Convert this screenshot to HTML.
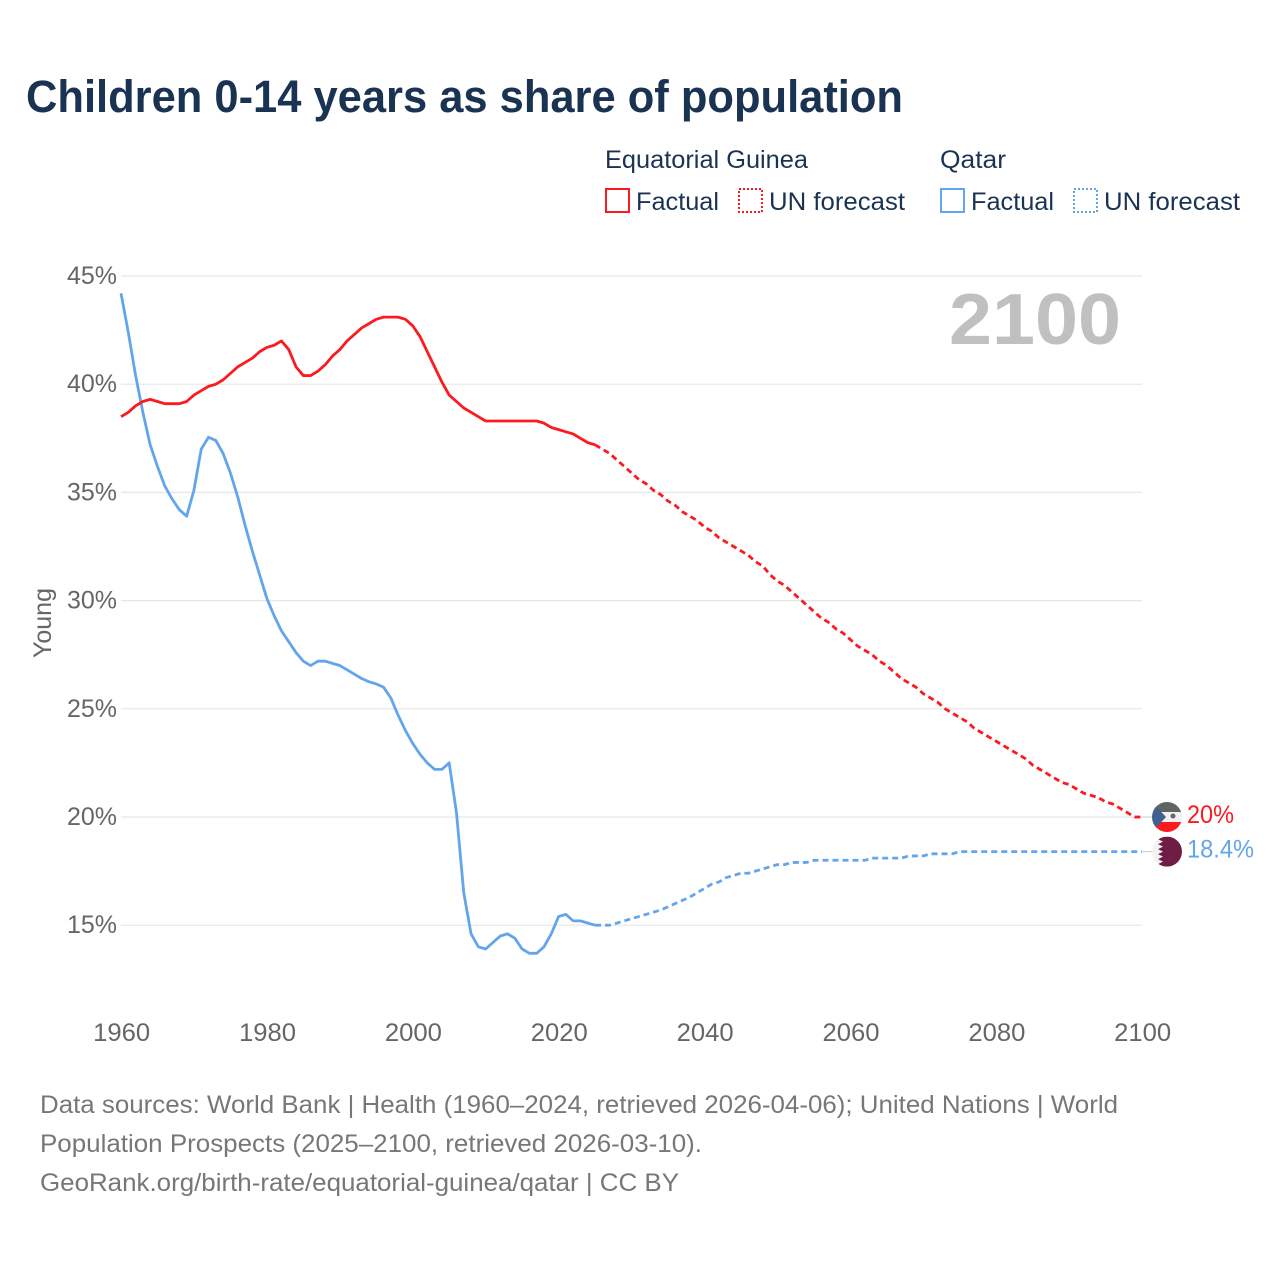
<!DOCTYPE html>
<html lang="en">
<head>
<meta charset="utf-8">
<title>Children 0-14 years as share of population</title>
<style>
html,body{margin:0;padding:0;background:#fff;}
svg{display:block;font-family:"Liberation Sans",sans-serif;}
</style>
</head>
<body>
<svg id="chart" xmlns="http://www.w3.org/2000/svg" width="1280" height="1280" viewBox="0 0 1280 1280">
  <defs>
    <clipPath id="clip-guinea"><circle cx="1167" cy="0" r="15" id="clip-guinea-circle"/></clipPath>
    <clipPath id="clip-qatar"><circle cx="1167" cy="0" r="15" id="clip-qatar-circle"/></clipPath>
  </defs>
  <rect width="1280" height="1280" fill="#fff"/>
  <text x="26" y="112" font-size="45" font-weight="700" fill="#1a3353" textLength="877" lengthAdjust="spacingAndGlyphs">Children 0-14 years as share of population</text>

  <g font-size="25" fill="#1a3353">
    <text x="605" y="168" textLength="203" lengthAdjust="spacingAndGlyphs">Equatorial Guinea</text>
    <text x="940" y="168" textLength="66" lengthAdjust="spacingAndGlyphs">Qatar</text>
    <rect x="606" y="189" width="23" height="23" fill="none" stroke="#fb1a1f" stroke-width="2"/>
    <text x="636" y="210" textLength="83" lengthAdjust="spacingAndGlyphs">Factual</text>
    <rect x="739" y="189" width="23" height="23" fill="none" stroke="#fb1a1f" stroke-width="2" stroke-dasharray="2 2"/>
    <text x="769" y="210" textLength="136" lengthAdjust="spacingAndGlyphs">UN forecast</text>
    <rect x="941" y="189" width="23" height="23" fill="none" stroke="#63a5ec" stroke-width="2"/>
    <text x="971" y="210" textLength="83" lengthAdjust="spacingAndGlyphs">Factual</text>
    <rect x="1074" y="189" width="23" height="23" fill="none" stroke="#63a5ec" stroke-width="2" stroke-dasharray="2 2"/>
    <text x="1104" y="210" textLength="136" lengthAdjust="spacingAndGlyphs">UN forecast</text>
  </g>

  <g id="grid"></g>
  <g id="y-ticks"></g>
  <g id="x-ticks"></g>
  <text transform="translate(51,623) rotate(-90)" text-anchor="middle" font-size="25" fill="#666" textLength="70" lengthAdjust="spacingAndGlyphs">Young</text>
  <text x="949" y="344" font-size="72" font-weight="700" fill="#c0c0c0" textLength="172" lengthAdjust="spacingAndGlyphs">2100</text>
  <g id="series"></g>
  <g id="end-markers"></g>

  <g font-size="25" fill="#777">
    <text x="40" y="1113" textLength="1078" lengthAdjust="spacingAndGlyphs">Data sources: World Bank | Health (1960–2024, retrieved 2026-04-06); United Nations | World</text>
    <text x="40" y="1152" textLength="662" lengthAdjust="spacingAndGlyphs">Population Prospects (2025–2100, retrieved 2026-03-10).</text>
    <text x="40" y="1191" textLength="639" lengthAdjust="spacingAndGlyphs">GeoRank.org/birth-rate/equatorial-guinea/qatar | CC BY</text>
  </g>
</svg>
<script>
var yTickValues = [15, 20, 25, 30, 35, 40, 45];
var xTickYears = [1960, 1980, 2000, 2020, 2040, 2060, 2080, 2100];
var factualStartYear = 1960;
var forecastStartYear = 2025;

var guineaFactual = [
  38.5,38.7,39.0,39.2,39.3,39.2,39.1,39.1,39.1,39.2,
  39.5,39.7,39.9,40.0,40.2,40.5,40.8,41.0,41.2,41.5,
  41.7,41.8,42.0,41.6,40.8,40.4,40.4,40.6,40.9,41.3,
  41.6,42.0,42.3,42.6,42.8,43.0,43.1,43.1,43.1,43.0,
  42.7,42.2,41.5,40.8,40.1,39.5,39.2,38.9,38.7,38.5,
  38.3,38.3,38.3,38.3,38.3,38.3,38.3,38.3,38.2,38.0,
  37.9,37.8,37.7,37.5,37.3,37.2
];
var guineaForecast = [
  37.2,37.0,36.8,36.5,36.2,35.9,35.6,35.4,35.1,34.9,
  34.6,34.4,34.1,33.9,33.7,33.4,33.2,32.9,32.7,32.5,
  32.3,32.1,31.8,31.6,31.2,30.9,30.7,30.4,30.1,29.8,
  29.5,29.2,29.0,28.7,28.5,28.2,27.9,27.7,27.5,27.2,
  27.0,26.7,26.4,26.2,26.0,25.7,25.5,25.3,25.0,24.8,
  24.6,24.4,24.1,23.9,23.7,23.5,23.3,23.1,22.9,22.7,
  22.4,22.2,22.0,21.8,21.6,21.5,21.3,21.1,21.0,20.9,
  20.7,20.6,20.4,20.2,20.0,20.0
];
var qatarFactual = [
  44.2,42.4,40.4,38.7,37.2,36.2,35.3,34.7,34.2,33.9,
  35.1,37.0,37.55,37.4,36.8,35.9,34.8,33.5,32.3,31.2,
  30.1,29.3,28.6,28.1,27.6,27.2,27.0,27.2,27.2,27.1,
  27.0,26.8,26.6,26.4,26.25,26.15,26.0,25.5,24.7,24.0,
  23.4,22.9,22.5,22.2,22.2,22.5,20.2,16.5,14.6,14.0,
  13.9,14.2,14.5,14.6,14.4,13.9,13.7,13.7,14.0,14.6,
  15.4,15.5,15.2,15.2,15.1,15.0
];
var qatarForecast = [
  15.0,15.0,15.0,15.1,15.2,15.3,15.4,15.5,15.6,15.7,
  15.85,16.0,16.15,16.3,16.5,16.7,16.9,17.0,17.2,17.3,
  17.4,17.4,17.5,17.6,17.7,17.8,17.8,17.9,17.9,17.9,
  18.0,18.0,18.0,18.0,18.0,18.0,18.0,18.0,18.1,18.1,
  18.1,18.1,18.1,18.2,18.2,18.2,18.3,18.3,18.3,18.3,
  18.4,18.4,18.4,18.4,18.4,18.4,18.4,18.4,18.4,18.4,
  18.4,18.4,18.4,18.4,18.4,18.4,18.4,18.4,18.4,18.4,
  18.4,18.4,18.4,18.4,18.4,18.4
];
var endLabels = ['20%', '18.4%'];

var NS = 'http://www.w3.org/2000/svg';
function xScale(year) { return 121 + (year - 1960) * (1021 / 140); }
function yScale(pct) { return 817 - (pct - 20) * 21.64; }
function svgEl(tag, attrs, parent) {
  var el = document.createElementNS(NS, tag);
  for (var k in attrs) { el.setAttribute(k, attrs[k]); }
  parent.appendChild(el);
  return el;
}
function linePoints(values, startYear) {
  return values.map(function (v, i) {
    return xScale(startYear + i).toFixed(2) + ',' + yScale(v).toFixed(2);
  }).join(' ');
}

var gridGroup = document.getElementById('grid');
var yTickGroup = document.getElementById('y-ticks');
yTickValues.forEach(function (v) {
  var gl = svgEl('line', {x1: xScale(1960), x2: xScale(2100), y1: yScale(v), y2: yScale(v), stroke: '#e6e6e6', 'stroke-width': 1.2}, gridGroup);
  
  
  var t = svgEl('text', {x: 117, y: yScale(v) + 8, 'text-anchor': 'end', 'font-size': 25, fill: '#666'}, yTickGroup);
  
  
  t.textContent = v + '%';
});
var xTickGroup = document.getElementById('x-ticks');
xTickYears.forEach(function (y) {
  var t = svgEl('text', {x: xScale(y) + 0.7, y: 1041, 'text-anchor': 'middle', 'font-size': 25, fill: '#666', textLength: 57, lengthAdjust: 'spacingAndGlyphs'}, xTickGroup);
  
  
  t.textContent = y;
});

var seriesGroup = document.getElementById('series');
var RED = '#fb1a1f';
var BLUE = '#63a5ec';
var lineQF = svgEl('polyline', {points: linePoints(qatarFactual, factualStartYear), fill: 'none', stroke: BLUE, 'stroke-width': 2.8, 'stroke-linejoin': 'round'}, seriesGroup);


var lineQU = svgEl('polyline', {points: linePoints(qatarForecast, forecastStartYear), fill: 'none', stroke: BLUE, 'stroke-width': 2.8, 'stroke-dasharray': '6 4', 'stroke-linejoin': 'round'}, seriesGroup);


var lineGF = svgEl('polyline', {points: linePoints(guineaFactual, factualStartYear), fill: 'none', stroke: RED, 'stroke-width': 2.8, 'stroke-linejoin': 'round'}, seriesGroup);


var lineGU = svgEl('polyline', {points: linePoints(guineaForecast, forecastStartYear), fill: 'none', stroke: RED, 'stroke-width': 2.8, 'stroke-dasharray': '6 4', 'stroke-linejoin': 'round'}, seriesGroup);



var markers = document.getElementById('end-markers');
var endG = yScale(guineaForecast[guineaForecast.length - 1]);
var endQ = yScale(qatarForecast[qatarForecast.length - 1]);
var cx = 1167;
document.getElementById('clip-guinea-circle').setAttribute('cy', endG);
document.getElementById('clip-qatar-circle').setAttribute('cy', endQ);

var connQ = svgEl('line', {x1: xScale(2100), x2: cx - 14, y1: endQ, y2: endQ, stroke: '#ccc', 'stroke-width': 1}, markers);


var connG = svgEl('line', {x1: xScale(2100), x2: cx - 14, y1: endG, y2: endG, stroke: '#ccc', 'stroke-width': 1}, markers);



var flagG = svgEl('g', {'clip-path': 'url(#clip-guinea)'}, markers);


svgEl('rect', {x: cx - 15, y: endG - 15, width: 30, height: 10, fill: '#5f6660'}, flagG);
svgEl('rect', {x: cx - 15, y: endG - 5, width: 30, height: 10, fill: '#f1f1f1'}, flagG);
svgEl('rect', {x: cx - 15, y: endG + 5, width: 30, height: 10, fill: '#fb1a1f'}, flagG);
svgEl('polygon', {points: (cx - 15) + ',' + (endG - 15) + ' ' + (cx - 1) + ',' + endG + ' ' + (cx - 15) + ',' + (endG + 15), fill: '#3f6090'}, flagG);
svgEl('circle', {cx: cx + 6, cy: endG - 1, r: 2.5, fill: '#666'}, flagG);

var flagQ = svgEl('g', {'clip-path': 'url(#clip-qatar)'}, markers);


svgEl('rect', {x: cx - 15, y: endQ - 15, width: 30, height: 30, fill: '#f2f2f2'}, flagQ);
var zig = [];
var teeth = 6;
for (var i = 0; i <= teeth * 2; i++) {
  zig.push((cx + (i % 2 === 0 ? -4 : -9)) + ',' + (endQ - 15 + i * 30 / (teeth * 2)));
}
svgEl('polygon', {points: (cx + 15) + ',' + (endQ - 15) + ' ' + zig.join(' ') + ' ' + (cx + 15) + ',' + (endQ + 15), fill: '#6f1d45'}, flagQ);

var lblG = svgEl('text', {x: 1187, y: endG + 6, 'font-size': 25, fill: RED, textLength: 47, lengthAdjust: 'spacingAndGlyphs'}, markers);


lblG.textContent = endLabels[0];
var lblQ = svgEl('text', {x: 1187, y: endQ + 6, 'font-size': 25, fill: BLUE, textLength: 67, lengthAdjust: 'spacingAndGlyphs'}, markers);


lblQ.textContent = endLabels[1];
</script>
</body>
</html>
